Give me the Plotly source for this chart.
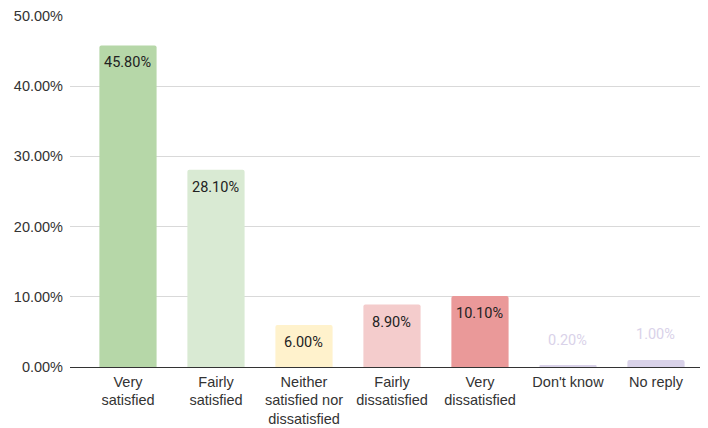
import plotly.graph_objects as go

categories = ["Very<br>satisfied", "Fairly<br>satisfied", "Neither<br>satisfied nor<br>dissatisfied",
              "Fairly<br>dissatisfied", "Very<br>dissatisfied", "Don't know", "No reply"]
values = [45.8, 28.1, 6.0, 8.9, 10.1, 0.2, 1.0]
colors = ["#b6d7a8", "#d9ead3", "#fff2cc", "#f4cccc", "#ea9999", "#d9d2e9", "#d9d2e9"]
label_inside = [True, True, True, True, True, False, False]
tick_vals = [0, 10, 20, 30, 40, 50]
tick_text = ["0.00%", "10.00%", "20.00%", "30.00%", "40.00%", "50.00%"]

x_idx = list(range(len(categories)))

fig = go.Figure()
fig.add_trace(go.Bar(
    x=x_idx, y=values, marker=dict(color=colors, line=dict(width=0)),
    width=0.65, hoverinfo="skip",
))

annotations = []
for i, (v, inside) in enumerate(zip(values, label_inside)):
    annotations.append(dict(
        x=i, y=v, xref="x", yref="y", text=f"{v:.2f}%", showarrow=False,
        yanchor="top" if inside else "bottom",
        yshift=-7 if inside else 15,
        font=dict(family="Roboto, Arial, sans-serif", size=14.5,
                  color="#222222" if inside else "#d9d2e9"),
    ))

fig.update_layout(
    width=700, height=420,
    margin=dict(l=62, r=0, t=8, b=61, autoexpand=False),
    paper_bgcolor="white", plot_bgcolor="white",
    showlegend=False,
    barcornerradius=2,
    annotations=annotations,
    xaxis=dict(
        range=[-0.659, 6.591], tickmode="array", tickvals=x_idx, ticktext=categories,
        showgrid=False, ticks="", showline=False, zeroline=False, automargin=False,
        ticklabelstandoff=4,
        tickfont=dict(family="Arial, Liberation Sans, sans-serif", size=14.5, color="#333333"),
    ),
    yaxis=dict(
        range=[0, 50], tickmode="array", tickvals=tick_vals, ticktext=tick_text,
        showgrid=True, gridcolor="#d9d9d9", gridwidth=1, automargin=False,
        zeroline=True, zerolinecolor="#333333", zerolinewidth=1,
        ticks="", ticklabelstandoff=6,
        tickfont=dict(family="Arial, Liberation Sans, sans-serif", size=14.5, color="#333333"),
    ),
)

fig.write_html("out.html")
